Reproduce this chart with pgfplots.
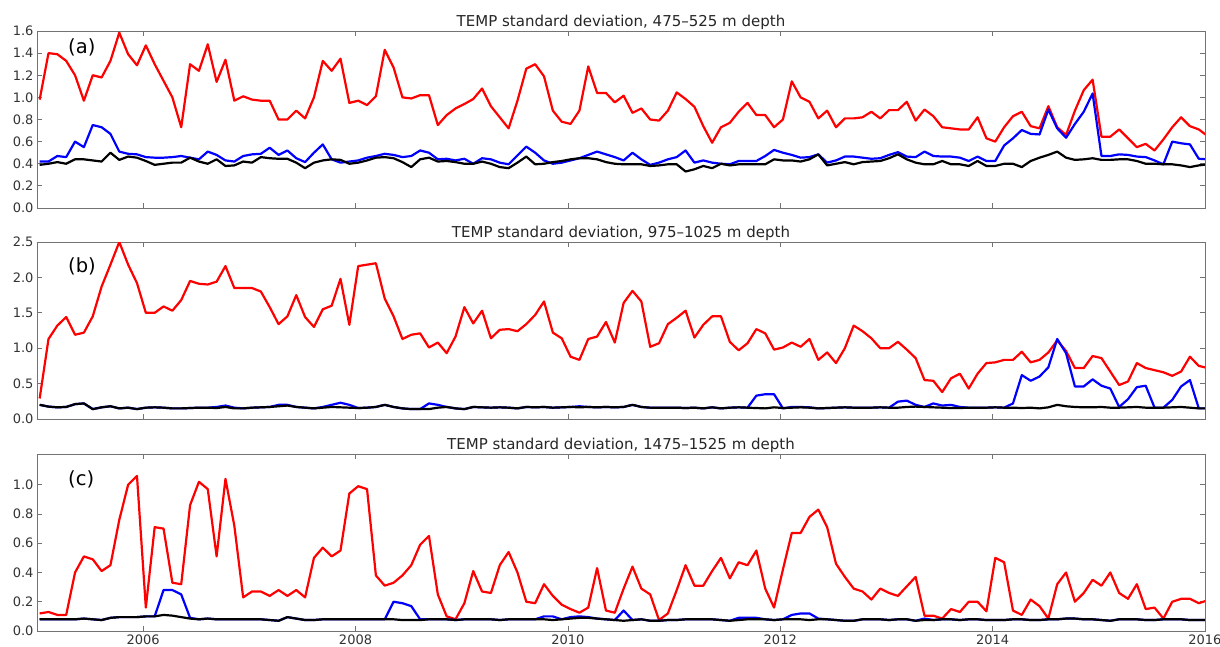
\documentclass[border=0pt]{standalone}
\usepackage{fontspec}
\setmainfont{DejaVu Sans}
\usepackage{pgfplots}
\usepackage{pgfplotstable}
\pgfplotsset{compat=1.18}

% columns: red, blue, black (monthly, Jan 2005 ...)
\pgfplotstableread{
r b k
0.98 0.42 0.39
1.40 0.42 0.40
1.39 0.47 0.415
1.33 0.46 0.40
1.20 0.60 0.44
0.97 0.55 0.44
1.20 0.75 0.43
1.18 0.73 0.42
1.33 0.67 0.50
1.585 0.51 0.435
1.39 0.49 0.465
1.29 0.485 0.455
1.47 0.46 0.425
1.30 0.455 0.39
1.15 0.455 0.40
1.00 0.46 0.41
0.73 0.47 0.41
1.30 0.455 0.455
1.24 0.44 0.42
1.48 0.51 0.40
1.14 0.48 0.44
1.34 0.43 0.38
0.97 0.42 0.385
1.01 0.47 0.42
0.98 0.485 0.41
0.97 0.49 0.46
0.97 0.545 0.45
0.80 0.48 0.445
0.80 0.52 0.445
0.88 0.45 0.41
0.81 0.415 0.36
1.00 0.50 0.41
1.33 0.575 0.43
1.24 0.44 0.44
1.35 0.41 0.435
0.95 0.42 0.40
0.97 0.43 0.41
0.93 0.455 0.43
1.01 0.47 0.455
1.43 0.49 0.46
1.27 0.48 0.45
1.00 0.46 0.415
0.99 0.47 0.37
1.02 0.52 0.44
1.02 0.50 0.455
0.75 0.44 0.42
0.84 0.445 0.425
0.90 0.43 0.415
0.94 0.445 0.40
0.985 0.40 0.40
1.08 0.45 0.42
0.92 0.44 0.40
0.82 0.41 0.37
0.72 0.395 0.36
0.97 0.475 0.41
1.26 0.555 0.465
1.30 0.50 0.395
1.19 0.43 0.40
0.88 0.40 0.415
0.78 0.41 0.425
0.76 0.43 0.44
0.88 0.45 0.45
1.28 0.48 0.45
1.04 0.51 0.44
1.04 0.485 0.415
0.955 0.46 0.40
1.015 0.43 0.395
0.86 0.50 0.395
0.90 0.44 0.395
0.80 0.39 0.38
0.79 0.41 0.385
0.88 0.44 0.395
1.045 0.46 0.395
0.985 0.52 0.33
0.915 0.41 0.35
0.74 0.43 0.38
0.59 0.41 0.36
0.73 0.40 0.40
0.77 0.395 0.385
0.87 0.425 0.395
0.95 0.425 0.395
0.84 0.425 0.395
0.84 0.47 0.395
0.73 0.525 0.44
0.80 0.50 0.43
1.145 0.48 0.43
1.00 0.455 0.42
0.96 0.46 0.44
0.81 0.485 0.485
0.88 0.41 0.385
0.73 0.43 0.40
0.81 0.465 0.415
0.81 0.465 0.395
0.82 0.455 0.415
0.87 0.445 0.42
0.81 0.45 0.425
0.885 0.48 0.45
0.885 0.505 0.485
0.96 0.465 0.44
0.79 0.46 0.41
0.89 0.51 0.395
0.83 0.47 0.395
0.73 0.465 0.425
0.72 0.465 0.395
0.71 0.455 0.395
0.71 0.425 0.38
0.82 0.465 0.425
0.63 0.425 0.38
0.60 0.425 0.38
0.73 0.565 0.40
0.83 0.63 0.40
0.87 0.705 0.37
0.74 0.67 0.425
0.72 0.665 0.455
0.92 0.89 0.48
0.73 0.72 0.51
0.66 0.635 0.455
0.88 0.76 0.435
1.065 0.87 0.44
1.16 1.035 0.45
0.645 0.47 0.435
0.645 0.47 0.435
0.71 0.485 0.44
0.63 0.48 0.44
0.55 0.465 0.425
0.58 0.46 0.40
0.52 0.43 0.40
0.62 0.395 0.395
0.73 0.60 0.395
0.82 0.585 0.385
0.74 0.575 0.37
0.71 0.445 0.385
0.65 0.44 0.395
}\tabA

\pgfplotstableread{
r b k
0.29 0.20 0.20
1.13 0.175 0.175
1.32 0.165 0.165
1.44 0.17 0.17
1.19 0.21 0.21
1.22 0.22 0.22
1.45 0.14 0.14
1.87 0.165 0.165
2.18 0.18 0.18
2.50 0.15 0.15
2.18 0.16 0.16
1.92 0.14 0.14
1.50 0.16 0.16
1.50 0.165 0.165
1.59 0.16 0.16
1.53 0.15 0.15
1.68 0.15 0.15
1.95 0.155 0.155
1.91 0.16 0.16
1.90 0.16 0.16
1.94 0.17 0.155
2.16 0.19 0.17
1.85 0.16 0.15
1.85 0.15 0.15
1.85 0.16 0.16
1.80 0.165 0.165
1.58 0.17 0.17
1.34 0.20 0.18
1.45 0.20 0.19
1.75 0.17 0.17
1.44 0.16 0.16
1.30 0.15 0.15
1.55 0.17 0.16
1.60 0.20 0.17
1.98 0.23 0.165
1.33 0.20 0.16
2.16 0.155 0.155
2.18 0.16 0.16
2.20 0.17 0.17
1.70 0.20 0.20
1.45 0.17 0.17
1.13 0.15 0.15
1.19 0.14 0.14
1.21 0.14 0.14
1.01 0.22 0.14
1.08 0.20 0.16
0.93 0.17 0.17
1.165 0.15 0.15
1.58 0.14 0.14
1.35 0.17 0.17
1.53 0.165 0.165
1.14 0.16 0.16
1.26 0.165 0.165
1.27 0.16 0.16
1.24 0.15 0.15
1.34 0.17 0.17
1.47 0.165 0.165
1.66 0.17 0.17
1.22 0.16 0.16
1.14 0.165 0.165
0.88 0.17 0.17
0.835 0.18 0.165
1.13 0.17 0.17
1.165 0.165 0.165
1.37 0.17 0.17
1.08 0.165 0.165
1.64 0.17 0.17
1.81 0.20 0.20
1.66 0.17 0.17
1.02 0.16 0.16
1.07 0.16 0.16
1.34 0.16 0.16
1.43 0.16 0.16
1.53 0.155 0.155
1.15 0.16 0.16
1.33 0.15 0.15
1.45 0.165 0.165
1.45 0.15 0.15
1.09 0.16 0.16
0.97 0.165 0.165
1.07 0.16 0.16
1.27 0.33 0.155
1.21 0.35 0.15
0.98 0.35 0.165
1.01 0.15 0.155
1.08 0.17 0.16
1.02 0.17 0.165
1.13 0.165 0.16
0.835 0.15 0.15
0.94 0.155 0.155
0.79 0.16 0.16
1.00 0.165 0.165
1.32 0.16 0.16
1.24 0.16 0.16
1.14 0.16 0.16
1.00 0.165 0.165
1.00 0.16 0.16
1.09 0.245 0.16
0.98 0.26 0.17
0.86 0.20 0.175
0.55 0.17 0.17
0.54 0.22 0.165
0.38 0.19 0.16
0.575 0.20 0.155
0.64 0.17 0.155
0.43 0.16 0.16
0.64 0.16 0.16
0.79 0.16 0.16
0.80 0.165 0.165
0.835 0.16 0.16
0.835 0.22 0.16
0.95 0.62 0.155
0.80 0.54 0.16
0.835 0.60 0.15
0.94 0.73 0.165
1.11 1.13 0.20
0.96 0.93 0.18
0.72 0.46 0.17
0.72 0.46 0.165
0.89 0.56 0.165
0.86 0.47 0.17
0.67 0.43 0.16
0.48 0.17 0.16
0.53 0.28 0.165
0.79 0.45 0.17
0.72 0.47 0.16
0.69 0.16 0.16
0.66 0.16 0.16
0.61 0.27 0.165
0.67 0.46 0.17
0.88 0.55 0.16
0.75 0.15 0.15
0.72 0.15 0.15
}\tabB

\pgfplotstableread{
r b k
0.12 0.08 0.08
0.13 0.08 0.08
0.11 0.08 0.08
0.11 0.08 0.08
0.40 0.08 0.08
0.51 0.085 0.085
0.49 0.08 0.08
0.41 0.075 0.075
0.45 0.09 0.09
0.76 0.095 0.095
1.00 0.095 0.095
1.06 0.095 0.095
0.16 0.10 0.10
0.71 0.10 0.10
0.70 0.28 0.11
0.33 0.28 0.105
0.32 0.25 0.095
0.86 0.09 0.085
1.02 0.08 0.08
0.97 0.085 0.085
0.51 0.08 0.08
1.04 0.08 0.08
0.72 0.08 0.08
0.23 0.08 0.08
0.27 0.08 0.08
0.27 0.08 0.08
0.24 0.075 0.075
0.28 0.07 0.07
0.24 0.095 0.095
0.28 0.085 0.085
0.23 0.075 0.075
0.50 0.075 0.075
0.57 0.08 0.08
0.51 0.08 0.08
0.55 0.08 0.08
0.94 0.08 0.08
0.99 0.08 0.08
0.97 0.08 0.08
0.38 0.08 0.08
0.31 0.08 0.08
0.33 0.20 0.08
0.38 0.19 0.075
0.45 0.17 0.075
0.59 0.08 0.075
0.65 0.08 0.08
0.25 0.08 0.08
0.10 0.08 0.08
0.08 0.075 0.075
0.19 0.08 0.08
0.41 0.08 0.08
0.27 0.08 0.08
0.26 0.08 0.08
0.45 0.075 0.075
0.54 0.08 0.08
0.40 0.08 0.08
0.20 0.08 0.08
0.19 0.08 0.08
0.32 0.10 0.08
0.24 0.10 0.075
0.18 0.08 0.08
0.15 0.095 0.085
0.125 0.10 0.09
0.16 0.095 0.09
0.43 0.085 0.085
0.14 0.08 0.08
0.125 0.075 0.075
0.29 0.14 0.07
0.44 0.075 0.075
0.29 0.08 0.08
0.25 0.07 0.07
0.075 0.07 0.07
0.12 0.075 0.075
0.28 0.075 0.075
0.45 0.08 0.08
0.31 0.08 0.08
0.31 0.08 0.08
0.41 0.08 0.08
0.50 0.075 0.075
0.36 0.07 0.07
0.47 0.09 0.075
0.45 0.09 0.08
0.55 0.09 0.08
0.29 0.08 0.08
0.16 0.075 0.075
0.42 0.08 0.08
0.67 0.11 0.08
0.67 0.12 0.08
0.78 0.12 0.075
0.83 0.085 0.08
0.71 0.08 0.08
0.46 0.075 0.075
0.37 0.07 0.07
0.29 0.07 0.07
0.27 0.08 0.08
0.215 0.08 0.08
0.29 0.08 0.08
0.26 0.075 0.075
0.24 0.08 0.08
0.305 0.08 0.08
0.37 0.07 0.07
0.105 0.085 0.075
0.105 0.075 0.075
0.085 0.08 0.08
0.15 0.08 0.08
0.13 0.075 0.075
0.20 0.08 0.08
0.20 0.08 0.08
0.135 0.075 0.075
0.50 0.075 0.075
0.47 0.075 0.075
0.14 0.08 0.08
0.11 0.08 0.08
0.215 0.075 0.075
0.17 0.075 0.075
0.085 0.08 0.08
0.32 0.08 0.08
0.40 0.085 0.085
0.20 0.085 0.085
0.26 0.08 0.08
0.35 0.08 0.08
0.31 0.075 0.075
0.40 0.07 0.07
0.26 0.08 0.08
0.22 0.08 0.08
0.32 0.08 0.08
0.15 0.075 0.075
0.16 0.075 0.075
0.085 0.08 0.08
0.20 0.08 0.08
0.22 0.08 0.08
0.22 0.075 0.075
0.19 0.075 0.075
0.21 0.075 0.075
}\tabC

\pgfplotsset{
  panel/.style={
    scale only axis, width=1168pt, height=177pt,
    anchor=north west,
    xmin=-0.3, xmax=131.7,
    xtick={11.7,35.7,59.7,83.7,107.7,131.7},
    xticklabels={},
    tick align=inside,
    major tick length=5pt,
    axis line style={black!55, line width=0.9pt},
    every tick/.style={black!55, line width=0.8pt},
    tick label style={font=\fontsize{13}{15}\selectfont, text=black!80},
    /pgf/number format/assume math mode=true,
    yticklabel style={/pgf/number format/.cd, fixed, fixed zerofill, precision=1},
    clip mode=individual,
  },
  rl/.style={color=red, line width=2.2pt, line join=round},
  bl/.style={color=blue, line width=2.2pt, line join=round},
  kl/.style={color=black, line width=2.2pt, line join=round},
}
\tikzset{
  ttl/.style={anchor=base, font=\fontsize{15}{17}\selectfont, text=black!85},
  lbl/.style={anchor=north west, inner sep=0pt, font=\fontsize{19.5}{22}\selectfont},
}

\begin{document}
\begin{tikzpicture}
\begin{axis}[panel, at={(0pt,0pt)}, ymin=0, ymax=1.6, ytick={0,0.2,...,1.6}]
\addplot[rl] table[x expr=\coordindex, y=r] {\tabA};
\addplot[bl] table[x expr=\coordindex, y=b] {\tabA};
\addplot[kl] table[x expr=\coordindex, y=k] {\tabA};
\node[ttl] at (rel axis cs:0.5,1) [yshift=5pt] {TEMP standard deviation, 475–525 m depth};
\node[lbl] at (rel axis cs:0,1) [xshift=31pt, yshift=-7pt] {(a)};
\end{axis}

\begin{axis}[panel, at={(0pt,-211pt)}, ymin=0, ymax=2.5, ytick={0,0.5,...,2.5}]
\addplot[rl] table[x expr=\coordindex, y=r] {\tabB};
\addplot[bl] table[x expr=\coordindex, y=b] {\tabB};
\addplot[kl] table[x expr=\coordindex, y=k] {\tabB};
\node[ttl] at (rel axis cs:0.5,1) [yshift=5pt] {TEMP standard deviation, 975–1025 m depth};
\node[lbl] at (rel axis cs:0,1) [xshift=31pt, yshift=-15pt] {(b)};
\end{axis}

\begin{axis}[panel, at={(0pt,-423pt)}, ymin=0, ymax=1.21, ytick={0,0.2,...,1.0},
  xticklabels={2006,2008,2010,2012,2014,2016}]
\addplot[rl] table[x expr=\coordindex, y=r] {\tabC};
\addplot[bl] table[x expr=\coordindex, y=b] {\tabC};
\addplot[kl] table[x expr=\coordindex, y=k] {\tabC};
\node[ttl] at (rel axis cs:0.5,1) [yshift=5pt] {TEMP standard deviation, 1475–1525 m depth};
\node[lbl] at (rel axis cs:0,1) [xshift=31pt, yshift=-16pt] {(c)};
\end{axis}

\pgfresetboundingbox
\path[use as bounding box] (-37pt,31pt) rectangle (1183pt,-615pt);
\end{tikzpicture}
\end{document}
